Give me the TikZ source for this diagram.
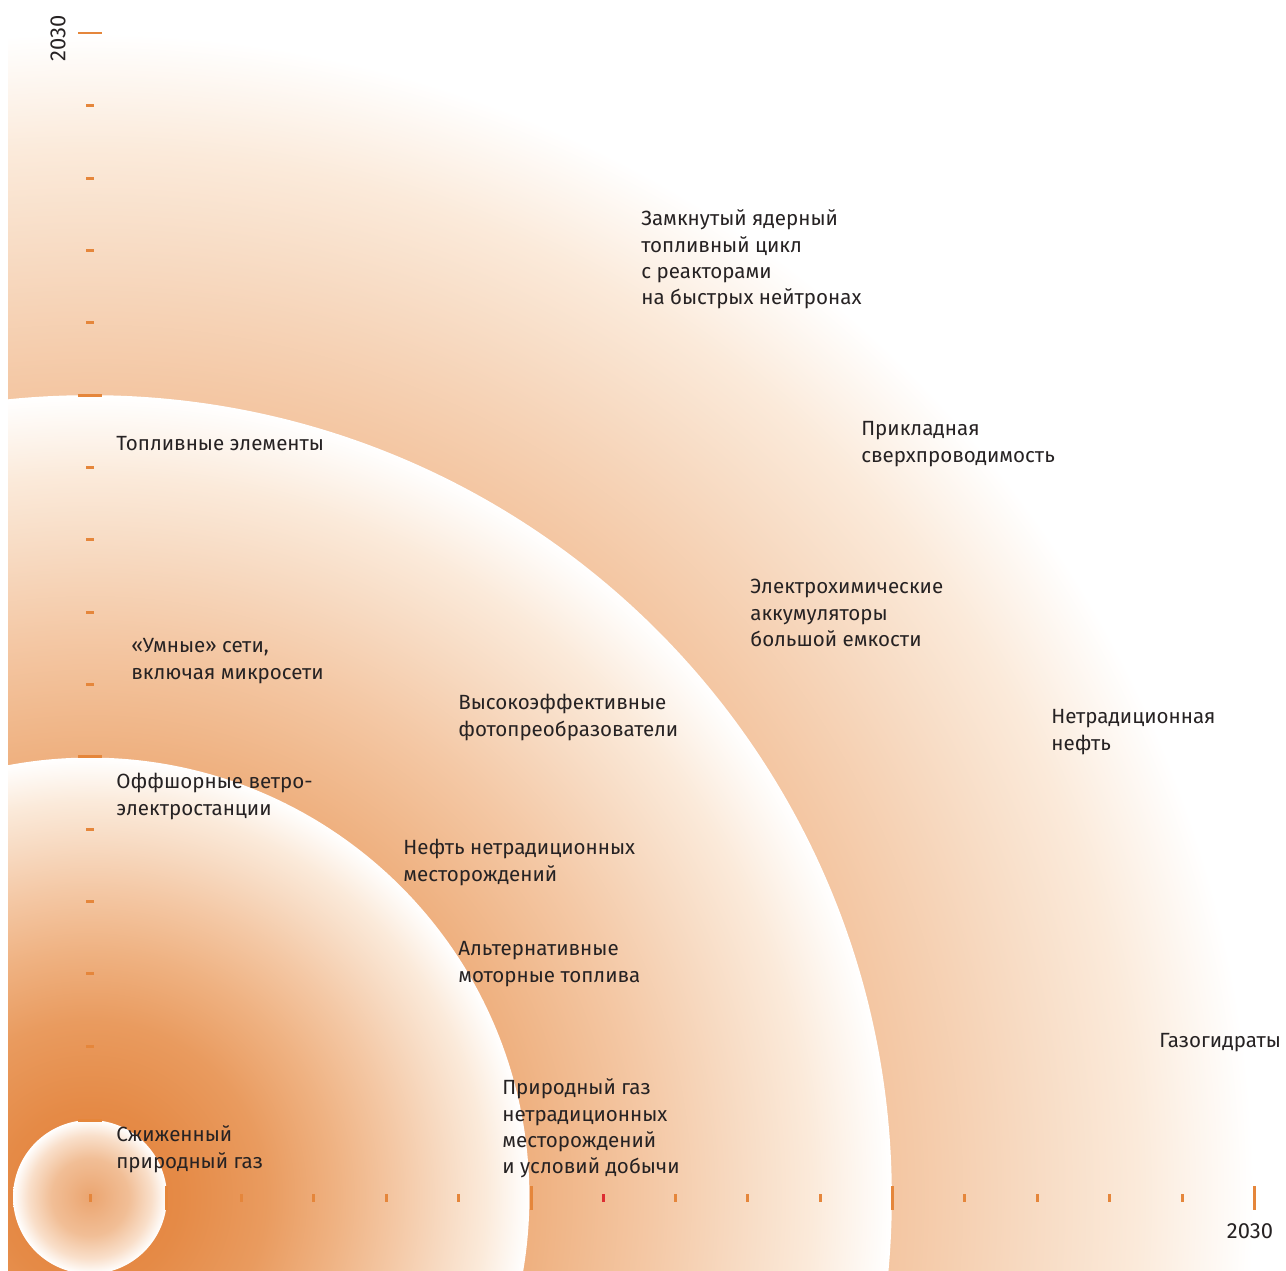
\documentclass[tikz,border=0pt]{standalone}
\usepackage{fontspec}
\setmainfont{Fira Sans}
\usepackage{xcolor}
\usepackage{tikz}
\definecolor{myorange}{RGB}{229,134,59}
\definecolor{myred}{RGB}{221,45,50}
\definecolor{mytext}{RGB}{38,34,35}
\definecolor{fadeA}{RGB}{226,130,60}
\definecolor{fadeB}{RGB}{229,138,70}
\definecolor{fadeC}{RGB}{233,155,95}
\definecolor{fadeD}{RGB}{239,178,130}
\definecolor{fadeE}{RGB}{244,200,165}
\definecolor{fadeF}{RGB}{247,217,192}
\definecolor{fadeG}{RGB}{251,234,218}
\definecolor{coreA}{RGB}{235,165,112}
\definecolor{coreB}{RGB}{241,190,150}
\definecolor{coreC}{RGB}{249,223,202}

\pgfdeclareradialshading{ringfade}{\pgfpoint{0bp}{0bp}}{color(0bp)=(fadeA); color(5bp)=(fadeB); color(10bp)=(fadeC); color(14bp)=(fadeD); color(17.5bp)=(fadeE); color(20bp)=(fadeF); color(22.5bp)=(fadeG); color(25bp)=(white); color(50bp)=(white)}
\pgfdeclareradialshading{corefade}{\pgfpoint{0bp}{0bp}}{color(0bp)=(coreA); color(12.5bp)=(coreB); color(20bp)=(coreC); color(25bp)=(white); color(50bp)=(white)}

\newcommand{\tstrut}{\rule{0pt}{10pt}}

\tikzset{
  techlbl/.style={anchor=north west, inner sep=0pt, align=left, text=mytext,
    font=\fontsize{11.7}{15}\selectfont},
  yearlbl/.style={inner sep=0pt, text=mytext, font=\fontsize{12.5}{15}\selectfont},
  bigtick/.style={myorange, line width=0.06cm},
  smalltick/.style={myorange, line width=0.06cm}
}

\begin{document}
\begin{tikzpicture}[x=0.02cm, y=-0.02cm]
\useasboundingbox (0,0) rectangle (1286,1271);

% horizons, from 2030 inwards
\begin{scope}
\clip (8,0) rectangle (1286,1271);
\shade[shading=ringfade] (90,1197) circle[radius=23.28cm];
\shade[shading=ringfade] (90,1197) circle[radius=16.04cm];
\shade[shading=ringfade] (90,1197) circle[radius=8.79cm];
\shade[shading=corefade] (90,1197) circle[radius=1.54cm];
\end{scope}

% horizontal axis
\draw[bigtick] (166,1186) -- (166,1210) (531,1186) -- (531,1210)
  (892,1186) -- (892,1210) (1254,1186) -- (1254,1210);
\draw[smalltick] (90,1194) -- (90,1202) (241,1194) -- (241,1202)
  (313,1194) -- (313,1202) (386,1194) -- (386,1202) (458,1194) -- (458,1202)
  (675,1194) -- (675,1202) (747,1194) -- (747,1202) (820,1194) -- (820,1202)
  (964,1194) -- (964,1202) (1037,1194) -- (1037,1202) (1109,1194) -- (1109,1202)
  (1182,1194) -- (1182,1202);
\draw[smalltick, myred] (603,1194) -- (603,1202);

% vertical axis
\draw[bigtick] (78,1120) -- (102,1120) (78,756) -- (102,756)
  (78,395) -- (102,395) (78,33) -- (102,33);
\draw[smalltick] (86,1046) -- (94,1046) (86,973) -- (94,973)
  (86,901) -- (94,901) (86,829) -- (94,829) (86,684) -- (94,684)
  (86,612) -- (94,612) (86,539) -- (94,539) (86,467) -- (94,467)
  (86,322) -- (94,322) (86,250) -- (94,250) (86,178) -- (94,178)
  (86,105) -- (94,105);

\node[yearlbl, rotate=90] (yeary) at (58,38) {2030};
\node[yearlbl] (yearx) at (1250,1231) {2030};

% outer ring
\node[techlbl] (fastreact) at (641,208) {\tstrut Замкнутый ядерный\\топливный цикл\\с реакторами\\на быстрых нейтронах};
\node[techlbl] (supercond) at (861,418) {\tstrut Прикладная\\сверхпроводимость};
\node[techlbl] (batteries) at (750,576) {\tstrut Электрохимические\\аккумуляторы\\большой емкости};
\node[techlbl] (unconvoil) at (1051,706) {\tstrut Нетрадиционная\\нефть};
\node[techlbl] (hydrates) at (1159,1030) {\tstrut Газогидраты};

% middle ring
\node[techlbl] (fuelcells) at (116,433) {\tstrut Топливные элементы};
\node[techlbl] (smartgrid) at (131,635) {\tstrut «Умные» сети,\\включая микросети};
\node[techlbl] (photovolt) at (458,692) {\tstrut Высокоэффективные\\фотопреобразователи};

% inner ring
\node[techlbl] (offshore) at (116,771) {\tstrut Оффшорные ветро-\\электростанции};
\node[techlbl] (tightoil) at (403,837) {\tstrut Нефть нетрадиционных\\месторождений};
\node[techlbl] (altfuels) at (458,938) {\tstrut Альтернативные\\моторные топлива};
\node[techlbl] (shalegas) at (502,1077) {\tstrut Природный газ\\нетрадиционных\\месторождений\\и условий добычи};

% core
\node[techlbl] (lng) at (116,1124) {\tstrut Сжиженный\\природный газ};

\end{tikzpicture}
\end{document}
